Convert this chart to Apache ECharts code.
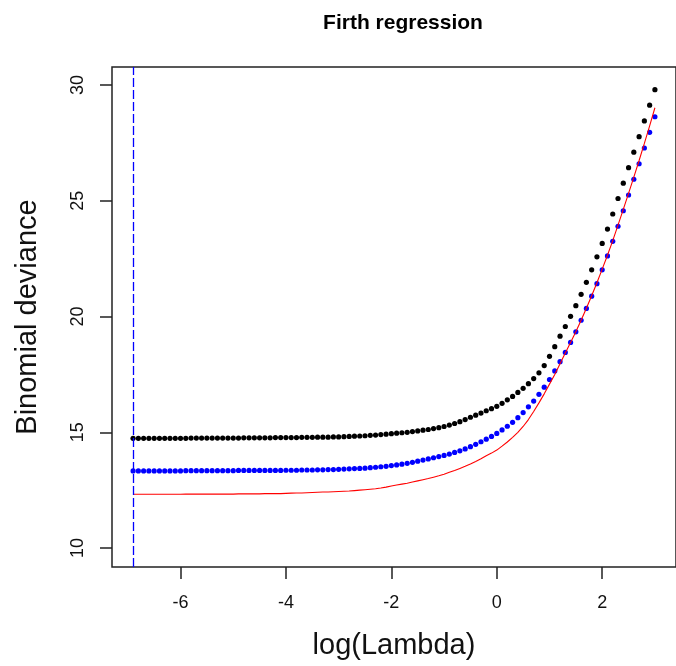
<!DOCTYPE html>
<html>
<head>
<meta charset="utf-8">
<script src="https://cdn.jsdelivr.net/npm/echarts@6/dist/echarts.min.js"></script>
<style>
html,body{margin:0;padding:0;background:#fff;}
#chart{width:676px;height:666px;}
</style>
</head>
<body>
<div id="chart"></div>
<script>
var logLambda = [
-6.9,-6.8,-6.7,-6.6,-6.5,-6.4,-6.3,-6.2,-6.1,-6.0,
-5.9,-5.8,-5.7,-5.6,-5.5,-5.4,-5.3,-5.2,-5.1,-5.0,
-4.9,-4.8,-4.7,-4.6,-4.5,-4.4,-4.3,-4.2,-4.1,
-4.0,-3.9,-3.8,-3.7,-3.6,-3.5,-3.4,-3.3,-3.2,-3.1,
-3.0,-2.9,-2.8,-2.7,-2.6,-2.5,-2.4,-2.3,-2.2,-2.1,
-2.0,-1.9,-1.8,-1.7,-1.6,-1.5,-1.4,-1.3,-1.2,-1.1,
-1.0,-0.9,-0.8,-0.7,-0.6,-0.5,-0.4,-0.3,-0.2,-0.1,
0.0,0.1,0.2,0.3,0.4,0.5,0.6,0.7,0.8,0.9,
1.0,1.1,1.2,1.3,1.4,1.5,1.6,1.7,1.8,1.9,
2.0,2.1,2.2,2.3,2.4,2.5,2.6,2.7,2.8,2.9,
3.0
];
var devBlack = [
14.74,14.74,14.74,14.74,14.74,14.74,14.74,14.74,14.74,14.74,
14.74,14.75,14.75,14.75,14.75,14.75,14.75,14.75,14.75,14.75,
14.75,14.76,14.76,14.76,14.76,14.76,14.76,14.77,14.77,
14.77,14.77,14.77,14.78,14.78,14.78,14.79,14.79,14.79,14.8,
14.8,14.81,14.82,14.83,14.84,14.85,14.87,14.88,14.9,14.92,
14.94,14.96,14.98,15.0,15.03,15.06,15.09,15.12,15.16,15.2,
15.25,15.31,15.38,15.46,15.55,15.65,15.74,15.83,15.93,16.02,
16.12,16.25,16.4,16.55,16.72,16.9,17.1,17.32,17.57,17.88,
18.28,18.7,19.15,19.57,20.01,20.47,20.96,21.48,22.02,22.58,
23.16,23.78,24.43,25.1,25.76,26.43,27.1,27.77,28.45,29.13,
29.8
];
var devBlue = [
13.33,13.33,13.33,13.33,13.33,13.33,13.33,13.33,13.33,13.33,
13.34,13.34,13.34,13.34,13.34,13.34,13.34,13.34,13.34,13.34,
13.35,13.35,13.35,13.35,13.35,13.35,13.35,13.35,13.35,
13.36,13.36,13.36,13.37,13.37,13.37,13.38,13.38,13.39,13.39,
13.4,13.41,13.42,13.43,13.44,13.45,13.47,13.49,13.51,13.53,
13.56,13.59,13.62,13.66,13.7,13.75,13.8,13.85,13.9,13.95,
14.0,14.06,14.13,14.2,14.28,14.38,14.48,14.59,14.7,14.82,
14.95,15.1,15.26,15.43,15.63,15.85,16.1,16.35,16.64,16.95,
17.28,17.65,18.05,18.45,18.88,19.34,19.84,20.35,20.88,21.42,
22.02,22.62,23.25,23.9,24.57,25.25,25.93,26.6,27.28,27.96,
28.63
];
var devRed = [
12.32,12.32,12.32,12.32,12.32,12.32,12.32,12.32,12.32,12.32,
12.33,12.33,12.33,12.33,12.33,12.33,12.33,12.33,12.33,12.33,
12.34,12.34,12.34,12.34,12.34,12.35,12.35,12.35,12.35,
12.36,12.37,12.38,12.38,12.39,12.4,12.41,12.42,12.42,12.43,
12.44,12.45,12.46,12.48,12.5,12.52,12.54,12.56,12.59,12.63,
12.68,12.72,12.76,12.8,12.85,12.9,12.95,13.0,13.06,13.12,
13.19,13.27,13.35,13.44,13.53,13.63,13.74,13.86,13.99,14.1,
14.23,14.4,14.58,14.78,15.0,15.25,15.55,15.9,16.27,16.66,
17.08,17.5,17.96,18.42,18.88,19.34,19.84,20.36,20.9,21.46,
22.05,22.65,23.28,23.95,24.63,25.32,26.02,26.74,27.48,28.24,
29.02
];
var lambdaMinLine = [-6.9];
var xTicks = [-6, -4, -2, 0, 2];
var yTicks = [10, 15, 20, 25, 30];

function zip(xs, ys) { return xs.map(function (x, i) { return [x, ys[i]]; }); }

var chart = echarts.init(document.getElementById('chart'), null, {renderer: 'canvas'});
var font = 'Liberation Sans, Arial, Helvetica, sans-serif';
var vlineStyle = {color: '#0000ff', type: [9, 3], width: 1.3, opacity: 1};
chart.setOption({
  animation: false,
  backgroundColor: '#fff',
  title: {
    text: 'Firth regression',
    left: 398, top: 8, textAlign: 'center',
    textStyle: {fontFamily: font, fontWeight: 'bold', fontSize: 21, color: '#000'}
  },
  grid: {
    left: 112, top: 67, width: 573, height: 500,
    show: true, borderColor: '#222', borderWidth: 1.5, backgroundColor: 'transparent'
  },
  xAxis: {
    type: 'value', min: -7.3, max: 3.4,
    name: 'log(Lambda)', nameLocation: 'middle', nameGap: 64,
    nameTextStyle: {fontFamily: font, fontSize: 29, color: '#111'},
    axisLine: {show: false, onZero: false},
    axisTick: {show: true, inside: false, length: 12, customValues: xTicks, lineStyle: {color: '#222', width: 1.5}},
    axisLabel: {customValues: xTicks, margin: 27, fontFamily: font, fontSize: 18, color: '#111'},
    splitLine: {show: false}
  },
  yAxis: {
    type: 'value', min: 9.18, max: 30.78,
    name: 'Binomial deviance', nameLocation: 'middle', nameGap: 70, nameRotate: 90,
    nameTextStyle: {fontFamily: font, fontSize: 29, color: '#111'},
    axisLine: {show: false, onZero: false},
    axisTick: {show: true, inside: false, length: 12, customValues: yTicks, lineStyle: {color: '#222', width: 1.5}},
    axisLabel: {customValues: yTicks, rotate: 90, margin: 25, fontFamily: font, fontSize: 18, color: '#111'},
    splitLine: {show: false}
  },
  series: [
    {
      type: 'line', data: [], silent: true, color: '#0000ff',
      markLine: {
        silent: true, symbol: ['none', 'none'], label: {show: false},
        lineStyle: vlineStyle,
        emphasis: {disabled: true},
        data: lambdaMinLine.map(function (v) { return {xAxis: v, lineStyle: vlineStyle}; })
      }
    },
    {
      type: 'scatter', data: zip(logLambda, devBlack), symbol: 'circle', symbolSize: 5.2,
      itemStyle: {color: '#000000', opacity: 1}, silent: true
    },
    {
      type: 'scatter', data: zip(logLambda, devBlue), symbol: 'circle', symbolSize: 5.2,
      itemStyle: {color: '#0000ff', opacity: 1}, silent: true
    },
    {
      type: 'line', data: zip(logLambda, devRed), showSymbol: false, smooth: false,
      lineStyle: {color: '#ff0000', width: 1.1}, silent: true
    }
  ]
});
</script>
</body>
</html>
